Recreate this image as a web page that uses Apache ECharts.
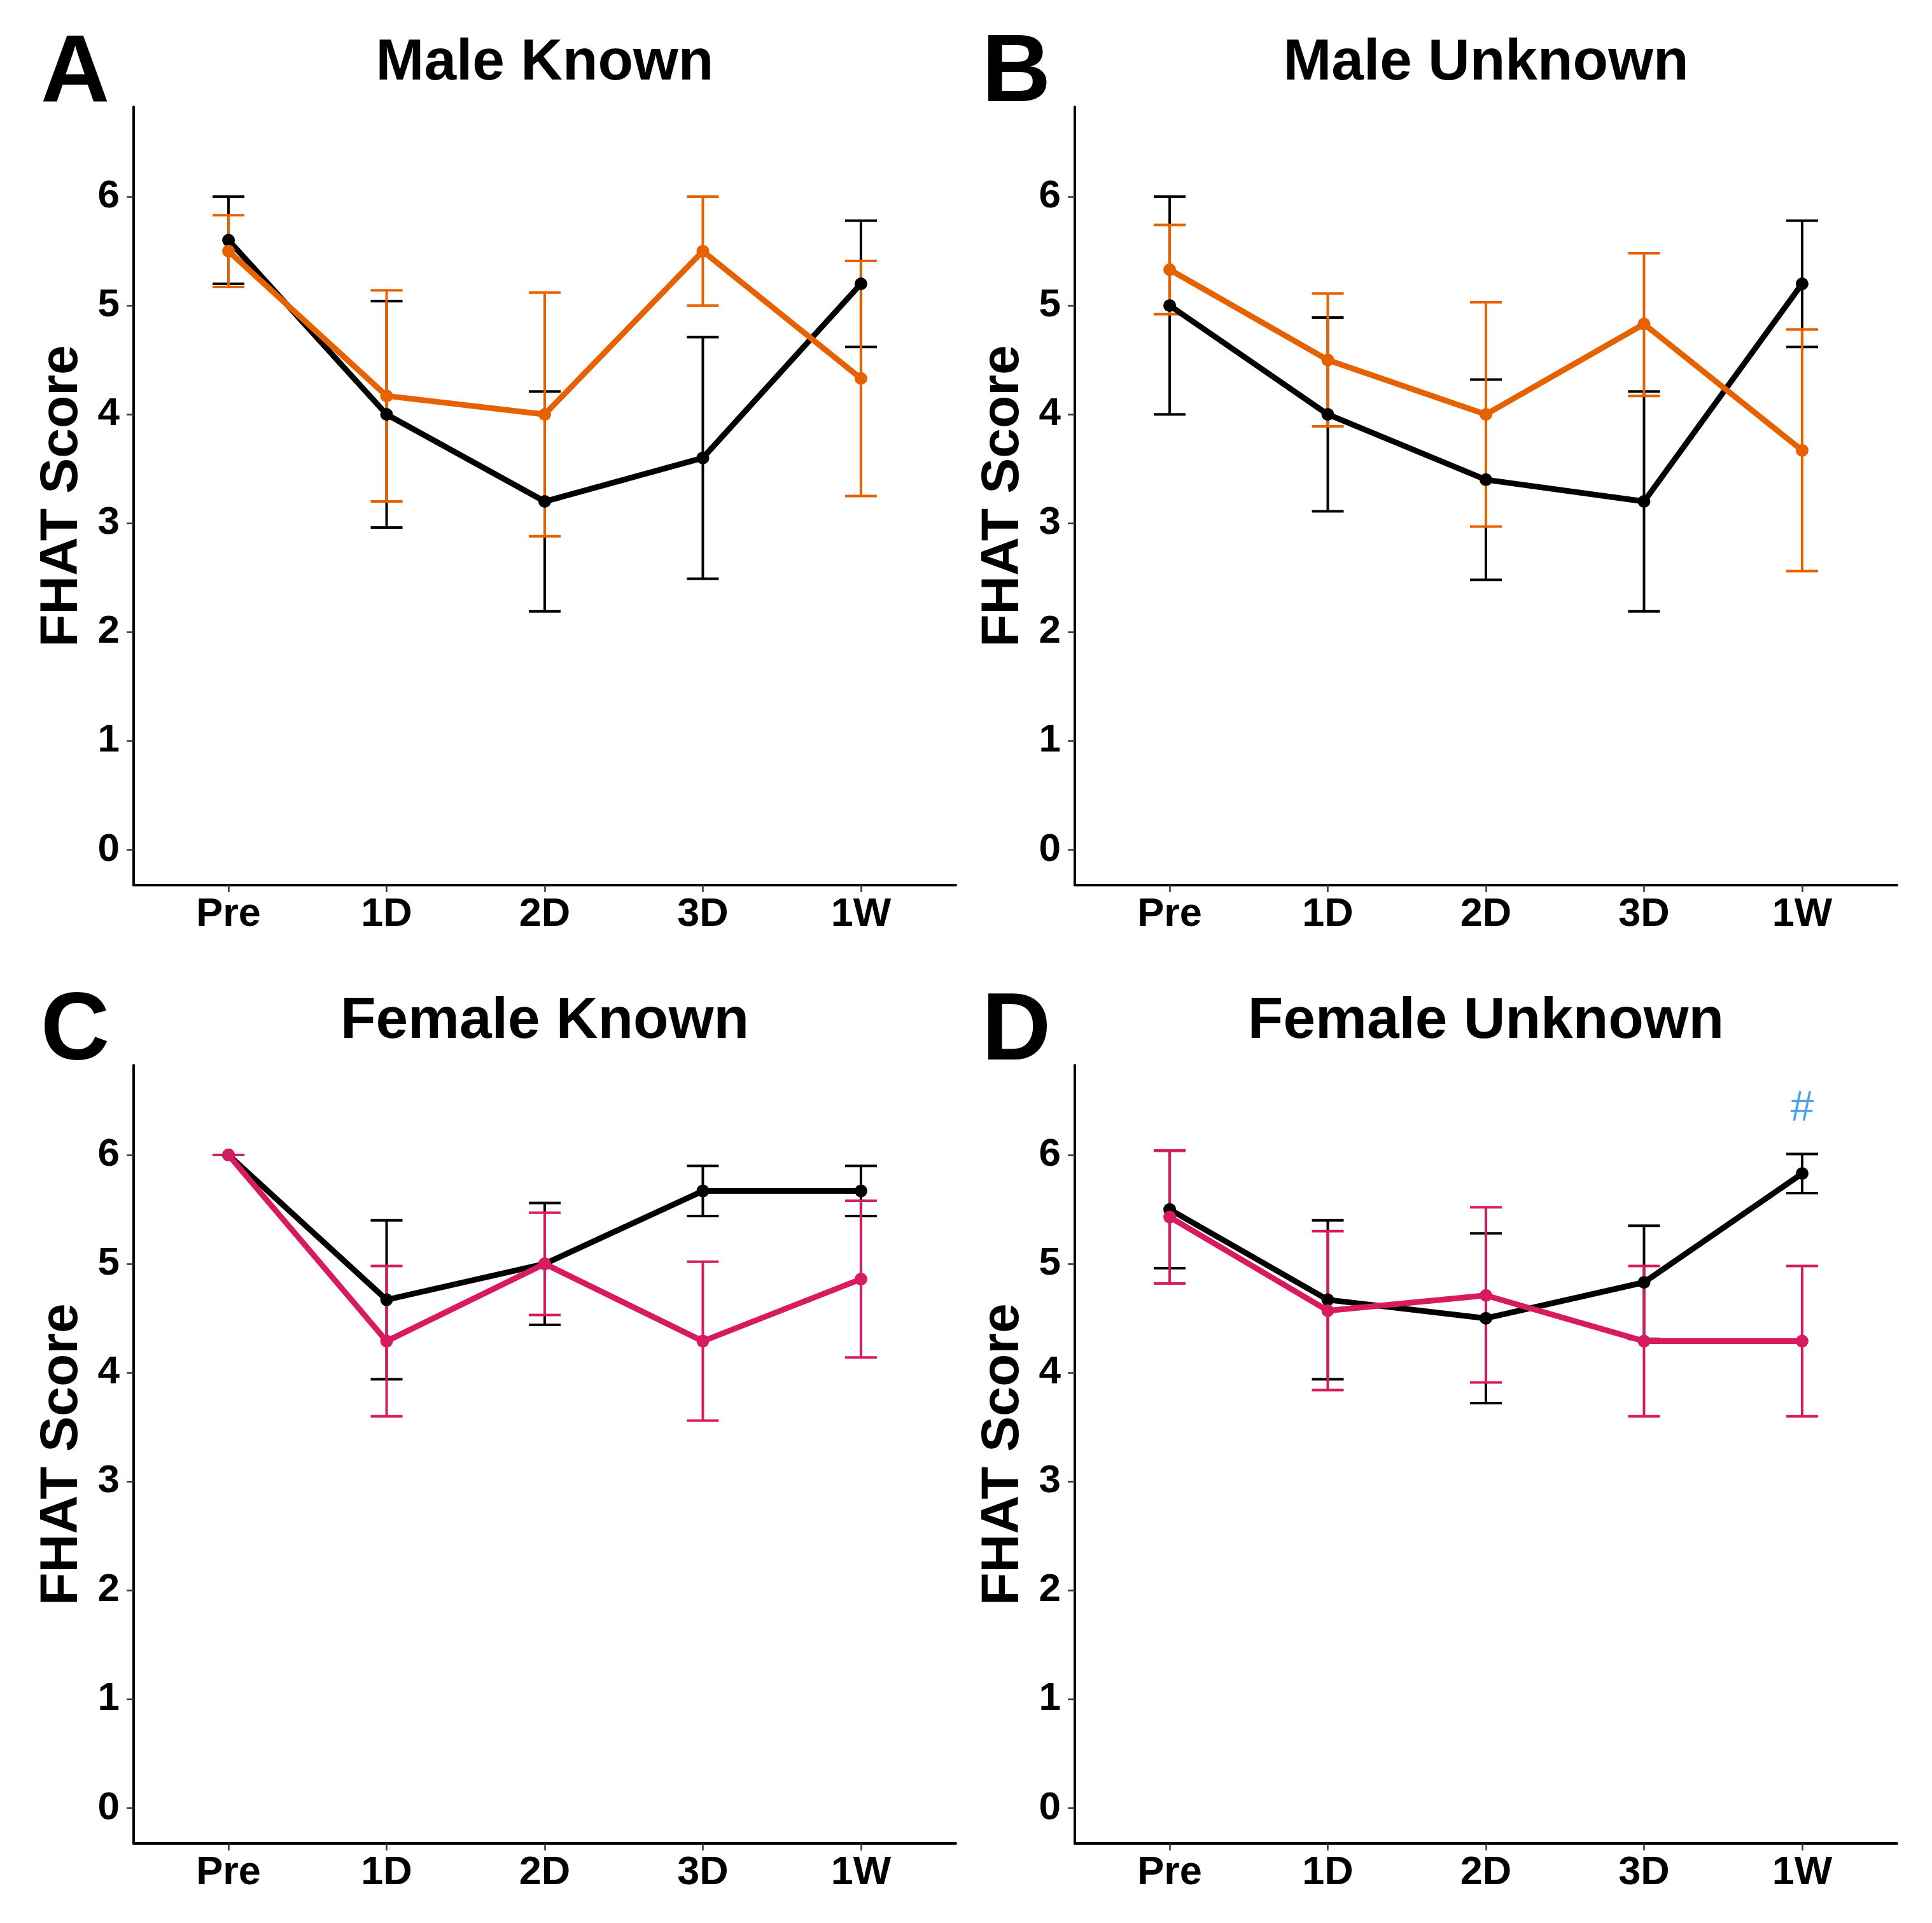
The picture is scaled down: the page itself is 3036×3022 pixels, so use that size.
<!DOCTYPE html>
<html>
<head>
<meta charset="utf-8">
<script src="https://cdn.jsdelivr.net/npm/echarts@6/dist/echarts.min.js"></script>
<style>
html,body{margin:0;padding:0;background:#fff;}
#c{width:3036px;height:3022px;}
</style>
</head>
<body>
<div id="c"></div>
<script>
// ---- data ----
const categories = ['Pre', '1D', '2D', '3D', '1W'];
const yTicks = [0, 1, 2, 3, 4, 5, 6];

const maleKnownCtrlMean = [5.6, 4.0, 3.2, 3.6, 5.2];
const maleKnownCtrlLo   = [5.2, 2.96, 2.19, 2.49, 4.62];
const maleKnownCtrlHi   = [6.0, 5.04, 4.21, 4.71, 5.78];
const maleKnownExpMean  = [5.5, 4.17, 4.0, 5.5, 4.33];
const maleKnownExpLo    = [5.17, 3.2, 2.88, 5.0, 3.25];
const maleKnownExpHi    = [5.83, 5.14, 5.12, 6.0, 5.41];

const maleUnknownCtrlMean = [5.0, 4.0, 3.4, 3.2, 5.2];
const maleUnknownCtrlLo   = [4.0, 3.11, 2.48, 2.19, 4.62];
const maleUnknownCtrlHi   = [6.0, 4.89, 4.32, 4.21, 5.78];
const maleUnknownExpMean  = [5.33, 4.5, 4.0, 4.83, 3.67];
const maleUnknownExpLo    = [4.92, 3.89, 2.97, 4.17, 2.56];
const maleUnknownExpHi    = [5.74, 5.11, 5.03, 5.48, 4.78];

const femaleKnownCtrlMean = [6.0, 4.67, 5.0, 5.67, 5.67];
const femaleKnownCtrlLo   = [6.0, 3.94, 4.44, 5.44, 5.44];
const femaleKnownCtrlHi   = [6.0, 5.40, 5.56, 5.9, 5.9];
const femaleKnownExpMean  = [6.0, 4.29, 5.0, 4.29, 4.86];
const femaleKnownExpLo    = [6.0, 3.6, 4.53, 3.56, 4.14];
const femaleKnownExpHi    = [6.0, 4.98, 5.47, 5.02, 5.58];

const femaleUnknownCtrlMean = [5.5, 4.67, 4.5, 4.83, 5.83];
const femaleUnknownCtrlLo   = [4.96, 3.94, 3.72, 4.31, 5.65];
const femaleUnknownCtrlHi   = [6.04, 5.4, 5.28, 5.35, 6.01];
const femaleUnknownExpMean  = [5.43, 4.57, 4.71, 4.29, 4.29];
const femaleUnknownExpLo    = [4.82, 3.84, 3.91, 3.6, 3.6];
const femaleUnknownExpHi    = [6.04, 5.3, 5.52, 4.98, 4.98];

const panelTitles = ['Male Known', 'Male Unknown', 'Female Known', 'Female Unknown'];
const panelLetters = ['A', 'B', 'C', 'D'];
const annotText = '#';
const annotPoint = [4, 6.42]; // panel D, 1W

// ---- layout / style ----
const FONT = 'Liberation Sans, Arial, Helvetica, sans-serif';
const BLACK = '#000000';
const ORANGE = '#E66100';
const PINK = '#D81B60';
const BLUE = '#1E88E5';

const gridW = 1292, gridH = 1223;
const lefts = [210, 1689, 210, 1689];
const tops = [168, 168, 1674, 1674];

const panels = [
  {ctrl: [maleKnownCtrlMean, maleKnownCtrlLo, maleKnownCtrlHi], exp: [maleKnownExpMean, maleKnownExpLo, maleKnownExpHi], color: ORANGE},
  {ctrl: [maleUnknownCtrlMean, maleUnknownCtrlLo, maleUnknownCtrlHi], exp: [maleUnknownExpMean, maleUnknownExpLo, maleUnknownExpHi], color: ORANGE},
  {ctrl: [femaleKnownCtrlMean, femaleKnownCtrlLo, femaleKnownCtrlHi], exp: [femaleKnownExpMean, femaleKnownExpLo, femaleKnownExpHi], color: PINK},
  {ctrl: [femaleUnknownCtrlMean, femaleUnknownCtrlLo, femaleUnknownCtrlHi], exp: [femaleUnknownExpMean, femaleUnknownExpLo, femaleUnknownExpHi], color: PINK}
];

const grids = [], xAxes = [], yAxes = [], series = [], graphics = [];

function errSeries(idx, mean, lo, hi, color, z) {
  return {
    type: 'custom', xAxisIndex: idx, yAxisIndex: idx, z: z, silent: true,
    data: mean.map((m, i) => [i, lo[i], hi[i]]),
    encode: {x: 0, y: [1, 2]},
    renderItem: function (params, api) {
      const x = api.value(0), l = api.value(1), h = api.value(2);
      const pL = api.coord([x, l]), pH = api.coord([x, h]);
      const hw = 25;
      const st = {stroke: color, lineWidth: 4};
      return {type: 'group', children: [
        {type: 'line', shape: {x1: pL[0], y1: pL[1], x2: pH[0], y2: pH[1]}, style: st},
        {type: 'line', shape: {x1: pL[0] - hw, y1: pL[1], x2: pL[0] + hw, y2: pL[1]}, style: st},
        {type: 'line', shape: {x1: pH[0] - hw, y1: pH[1], x2: pH[0] + hw, y2: pH[1]}, style: st}
      ]};
    }
  };
}
function lineSeries(idx, mean, color, z) {
  return {
    type: 'line', xAxisIndex: idx, yAxisIndex: idx, z: z, silent: true,
    data: mean.map((m, i) => [i, m]),
    symbol: 'circle', symbolSize: 20, showSymbol: true,
    lineStyle: {color: color, width: 9},
    itemStyle: {color: color}
  };
}

panels.forEach((p, k) => {
  grids.push({left: lefts[k], top: tops[k], width: gridW, height: gridH, containLabel: false});
  xAxes.push({
    type: 'value', gridIndex: k, min: -0.6, max: 4.6,
    splitLine: {show: false},
    axisLine: {show: true, onZero: false, lineStyle: {color: '#000', width: 4}},
    axisTick: {show: true, customValues: [0, 1, 2, 3, 4], length: 11, lineStyle: {color: '#333', width: 2.5}},
    axisLabel: {show: true, customValues: [0, 1, 2, 3, 4], formatter: v => categories[Math.round(v)],
      color: '#000', fontFamily: FONT, fontWeight: 'bold', fontSize: 63, margin: 15}
  });
  yAxes.push({
    type: 'value', gridIndex: k, min: -0.325, max: 6.825,
    splitLine: {show: false},
    axisLine: {show: true, onZero: false, lineStyle: {color: '#000', width: 4}},
    axisTick: {show: true, customValues: yTicks, length: 11, lineStyle: {color: '#333', width: 2.5}},
    axisLabel: {show: true, customValues: yTicks, formatter: v => String(Math.round(v)),
      color: '#000', fontFamily: FONT, fontWeight: 'bold', fontSize: 62, margin: 22},
    name: 'FHAT Score', nameLocation: 'middle', nameGap: 70, nameRotate: 90,
    nameTextStyle: {color: '#000', fontFamily: FONT, fontWeight: 'bold', fontSize: 84}
  });
  series.push(errSeries(k, p.ctrl[0], p.ctrl[1], p.ctrl[2], BLACK, 2));
  series.push(errSeries(k, p.exp[0], p.exp[1], p.exp[2], p.color, 3));
  series.push(lineSeries(k, p.ctrl[0], BLACK, 4));
  series.push(lineSeries(k, p.exp[0], p.color, 5));

  graphics.push({type: 'text', x: lefts[k] + gridW / 2, y: tops[k] - 68, z: 10,
    style: {text: panelTitles[k], font: 'bold 91px ' + FONT, fill: '#000', textAlign: 'center', textVerticalAlign: 'middle'}});
  graphics.push({type: 'text', x: lefts[k] - 146, y: tops[k] - 50, z: 10,
    style: {text: panelLetters[k], font: 'bold 150px ' + FONT, fill: '#000', textAlign: 'left', textVerticalAlign: 'middle'}});
});

series.push({
  type: 'scatter', xAxisIndex: 3, yAxisIndex: 3, z: 6, silent: true,
  data: [annotPoint], symbolSize: 1, itemStyle: {color: 'rgba(0,0,0,0)'},
  label: {show: true, position: 'inside', formatter: annotText, color: BLUE,
    fontFamily: FONT, fontSize: 66}
});

const chart = echarts.init(document.getElementById('c'), null, {renderer: 'canvas', width: 3036, height: 3022});
chart.setOption({
  animation: false,
  backgroundColor: '#ffffff',
  grid: grids, xAxis: xAxes, yAxis: yAxes, series: series,
  graphic: graphics
});
</script>
</body>
</html>
